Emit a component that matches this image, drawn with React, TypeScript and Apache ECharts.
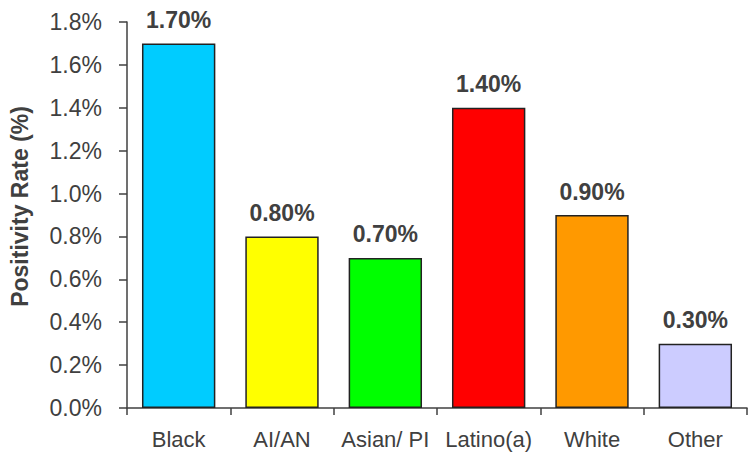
import React, { useEffect, useRef } from "react";
import * as echarts from "echarts";

const categories = ["Black", "AI/AN", "Asian/ PI", "Latino(a)", "White", "Other"];
const positivityRates = [1.7, 0.8, 0.7, 1.4, 0.9, 0.3];
const barColors = ["#00CCFF", "#FFFF00", "#00FF00", "#FF0000", "#FF9900", "#CCCCFF"];
const yTicks = [0, 0.2, 0.4, 0.6, 0.8, 1.0, 1.2, 1.4, 1.6, 1.8];

const FONT = "'Liberation Sans', Arial, sans-serif";
const TEXT = "#404040";

export default function App() {
  const ref = useRef<HTMLDivElement>(null);

  useEffect(() => {
    if (!ref.current) return;
    const chart = echarts.init(ref.current, null, { renderer: "svg" });
    chart.setOption({
      animation: false,
      backgroundColor: "#ffffff",
      grid: { left: 123, right: 9, top: 22, bottom: 50, containLabel: false },
      xAxis: {
        type: "category",
        data: categories,
        axisLine: { lineStyle: { color: TEXT, width: 1.5 } },
        axisTick: { show: true, alignWithLabel: false, interval: 0, length: 7, lineStyle: { color: TEXT, width: 1.5 } },
        axisLabel: { color: TEXT, fontFamily: FONT, fontSize: 22, margin: 20, interval: 0 },
      },
      yAxis: {
        type: "value",
        min: 0,
        max: yTicks[yTicks.length - 1],
        interval: 0.2,
        name: "Positivity Rate (%)",
        nameLocation: "middle",
        nameRotate: 90,
        nameGap: 96,
        nameTextStyle: {
          color: TEXT,
          fontFamily: FONT,
          fontSize: 23,
          fontWeight: "bold",
          padding: [0, 0, 0, 17],
        },
        axisLine: { show: true, lineStyle: { color: TEXT, width: 1.5 } },
        axisTick: { show: true, length: 8, lineStyle: { color: TEXT, width: 1.5 } },
        splitLine: { show: false },
        axisLabel: {
          color: TEXT,
          fontFamily: FONT,
          fontSize: 23,
          margin: 25,
          formatter: (v: number) => v.toFixed(1) + "%",
        },
      },
      series: [
        {
          type: "bar",
          barWidth: "71%",
          data: positivityRates.map((v, i) => ({
            value: v,
            itemStyle: { color: barColors[i], borderColor: "#222222", borderWidth: 1.5 },
          })),
          label: {
            show: true,
            position: "top",
            distance: 12,
            color: TEXT,
            fontFamily: FONT,
            fontSize: 23,
            fontWeight: "bold",
            formatter: (p: any) => Number(p.value).toFixed(2) + "%",
          },
        },
      ],
    });
    return () => chart.dispose();
  }, []);

  return (
    <div
      ref={ref}
      style={{ position: "absolute", left: 0, top: 0, width: 756, height: 458 }}
    />
  );
}
